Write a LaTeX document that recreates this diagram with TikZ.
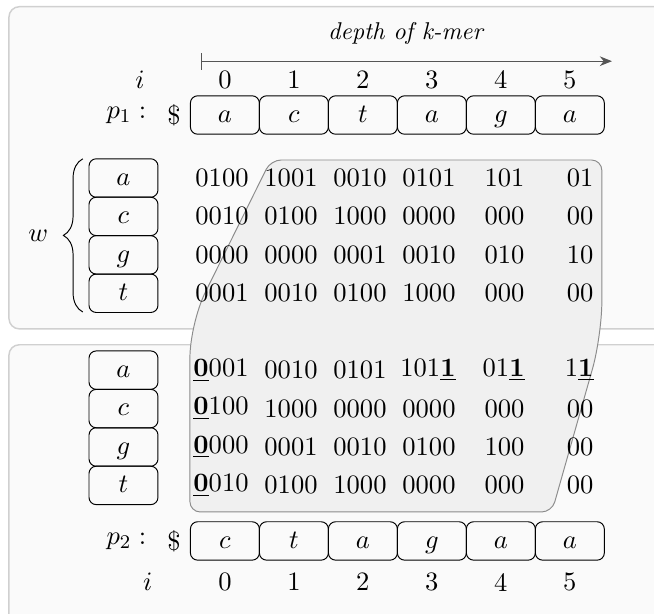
\documentclass[11pt,tikz,border=0pt]{standalone}
\usetikzlibrary{positioning,arrows.meta,decorations.pathreplacing}

\definecolor{panelfill}{HTML}{FAFAFA}
\definecolor{paneldraw}{HTML}{D0D0D0}
\definecolor{shadefill}{HTML}{F0F0F0}
\definecolor{shadedraw}{HTML}{8C8C8C}
\definecolor{axisgray}{HTML}{555555}

\newcommand{\ubit}[1]{\underline{\textbf{#1}}}

\tikzset{
  panel/.style={draw=paneldraw, fill=panelfill, rounded corners=1.5mm, line width=0.6pt},
  cell/.style={draw, rounded corners=3pt, minimum width=1cm, minimum height=0.557cm,
    inner sep=0pt, text height=1.5ex, text depth=0.25ex},
  bits/.style={anchor=east, inner sep=0pt},
}

\begin{document}
\begin{tikzpicture}
\useasboundingbox (-3.26,-7.232) rectangle (6.22,1.667);

% the two panels
\draw[panel] (-3.13,-3.10) rectangle (6.8,1.57);
\draw[panel] (-3.13,-7.8) rectangle (6.8,-3.33);

% shaded window over both bit tables
\draw[shadedraw, fill=shadefill, rounded corners=1.5mm] (3,-0.652) -- (5.464,-0.652)
  [rounded corners=5mm] -- (5.464,-3.2) [rounded corners=1.5mm] -- (4.74,-5.754)
  -- (-0.507,-5.754) [rounded corners=5mm] -- (-0.507,-3.02)
  [rounded corners=1.5mm] -- (0.665,-0.652) -- cycle;

% depth axis
\coordinate (dstart) at (-0.35,0.78);
\coordinate (dend) at (5.61,0.78);
\draw[axisgray, {Bar[width=7pt]}-{Stealth[length=5pt,width=4pt]}] (dstart) -- (dend)
  node[midway, above=3pt, text=black] {\small\textit{depth of k-mer}};

% first string
\node (i1) at (-1.23,0.51) {$i$};
\foreach \x in {0,...,5} \node (n1-\x) at (\x,0.51) {\x};
\foreach \ch [count=\x from 0] in {a,c,t,a,g,a}
  \node[cell] (p1-\x) at (\x,0) {$\ch$};
\node[left=0pt of p1-0] (d1) {\$};
\node[left=1pt of d1] (l1) {$p_1:$};

% upper bit table
\foreach \r/\ch in {0/a,1/c,2/g,3/t}
  \node[cell] (u-\ch) at (-1.47,-0.913-0.557*\r) {$\ch$};
\coordinate (wbot) at (-2.06,-2.855);
\coordinate (wtop) at (-2.06,-0.635);
\draw[decorate, decoration={brace, amplitude=8pt}] (wbot) -- (wtop)
  node[midway, left=10.5pt] (w) {$w$};
\foreach \r/\row in {0/{0100,1001,0010,0101,101,01},
                     1/{0010,0100,1000,0000,000,00},
                     2/{0000,0000,0001,0010,010,10},
                     3/{0001,0010,0100,1000,000,00}}
  \foreach \v [count=\c from 0] in \row
    \node[bits] (b\r-\c) at (\c+0.35,-0.913-0.557*\r) {\v};

% lower bit table
\foreach \r/\ch in {5/a,6/c,7/g,8/t}
  \node[cell] (l-\ch) at (-1.47,-0.913-0.557*\r) {$\ch$};
\foreach \r/\row in {5/{\ubit{0}001,0010,0101,101\ubit{1},01\ubit{1},1\ubit{1}},
                     6/{\ubit{0}100,1000,0000,0000,000,00},
                     7/{\ubit{0}000,0001,0010,0100,100,00},
                     8/{\ubit{0}010,0100,1000,0000,000,00}}
  \foreach \v [count=\c from 0] in \row
    \node[bits] (b\r-\c) at (\c+0.35,-0.913-0.557*\r) {\v};

% second string
\foreach \ch [count=\x from 0] in {c,t,a,g,a,a}
  \node[cell] (p2-\x) at (\x,-6.174) {$\ch$};
\node[left=0pt of p2-0] (d2) {\$};
\node[left=1pt of d2] (l2) {$p_2:$};
\node (i2) at (-1.12,-6.77) {$i$};
\foreach \x in {0,...,5} \node (n2-\x) at (\x,-6.77) {\x};
\end{tikzpicture}
\end{document}
